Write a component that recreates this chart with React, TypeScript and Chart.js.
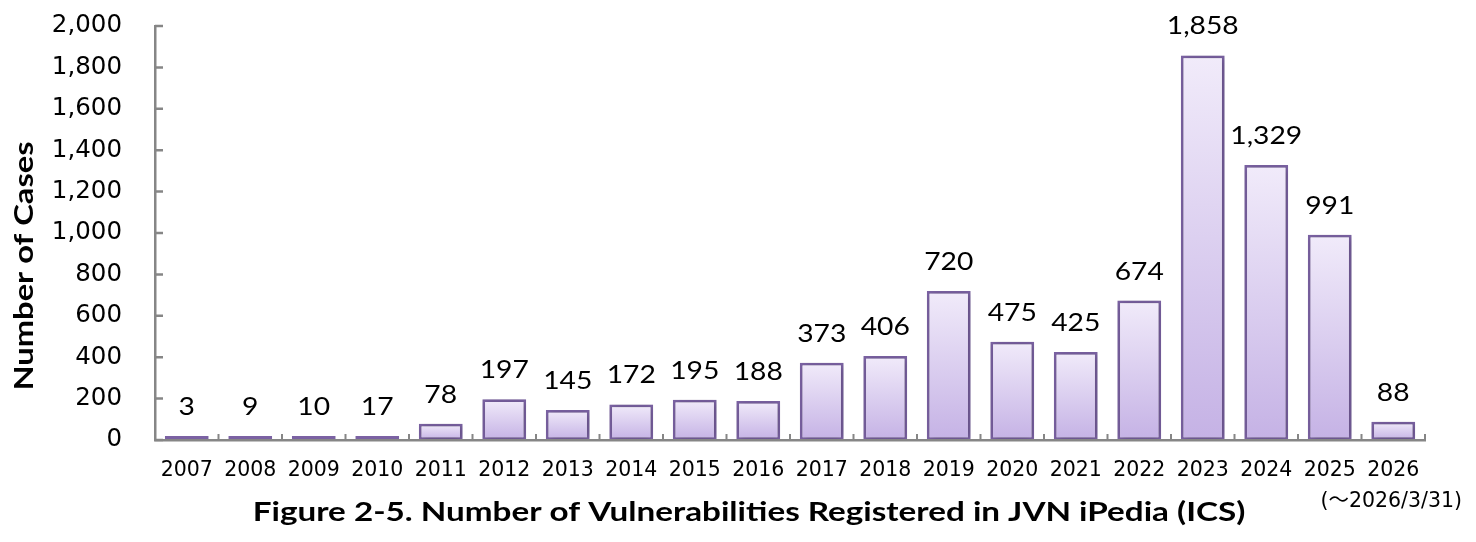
import { useEffect, useRef } from 'react';
import { Chart, registerables } from 'chart.js';

Chart.register(...registerables);

const categories = [
  '2007', '2008', '2009', '2010', '2011', '2012', '2013', '2014', '2015', '2016',
  '2017', '2018', '2019', '2020', '2021', '2022', '2023', '2024', '2025', '2026',
];
const caseCounts = [3, 9, 10, 17, 78, 197, 145, 172, 195, 188, 373, 406, 720, 475, 425, 674, 1858, 1329, 991, 88];
const yMax = 2000;
const yStep = 200;
const yAxisTitle = 'Number of Cases';
const chartTitle = 'Figure 2-5. Number of Vulnerabilities Registered in JVN iPedia (ICS)';
const lastYearNote = '(～2026/3/31)';

const AXIS_COLOR = '#868686';
const BORDER_COLOR = '#7b62a3';

const fmt = (v: number) => v.toLocaleString('en-US');

// the original uses a wide Calibri-like face, so texts are stretched a bit sideways
function drawText(ctx: any, text: string, x: number, y: number, font: string, sx: number, angle = 0) {
  ctx.save();
  ctx.translate(x, y);
  if (angle) ctx.rotate(angle);
  ctx.scale(sx, 1);
  ctx.font = font;
  ctx.fillText(text, 0, 0);
  ctx.restore();
}

const decorPlugin = {
  id: 'decor',
  beforeDatasetsDraw(chart: any) {
    const ctx = chart.ctx;
    ctx.save();
    ctx.shadowColor = 'rgba(0,0,0,0.3)';
    ctx.shadowBlur = 7;
    ctx.shadowOffsetX = 1;
    ctx.shadowOffsetY = 1;
  },
  afterDatasetsDraw(chart: any) {
    const ctx = chart.ctx;
    ctx.restore();

    const meta = chart.getDatasetMeta(0);
    ctx.save();
    ctx.fillStyle = '#000';
    ctx.textAlign = 'center';
    ctx.textBaseline = 'middle';
    meta.data.forEach((bar: any, i: number) => {
      drawText(ctx, fmt(caseCounts[i]), bar.x, bar.y - 29, '25px Lato', 1.13);
    });
    ctx.restore();
  },
  afterDraw(chart: any) {
    const { ctx, chartArea } = chart;
    const x = chart.scales.x;
    const y = chart.scales.y;
    ctx.save();

    // tick marks point into the plot
    ctx.strokeStyle = AXIS_COLOR;
    ctx.lineWidth = 2.5;
    ctx.beginPath();
    y.ticks.forEach((t: any) => {
      const py = y.getPixelForValue(t.value);
      ctx.moveTo(chartArea.left, py);
      ctx.lineTo(chartArea.left + 8, py);
    });
    ctx.stroke();
    ctx.lineWidth = 2;
    ctx.beginPath();
    for (let i = 0; i <= categories.length; i++) {
      const px = x.getPixelForValue(i - 0.5);
      ctx.moveTo(px, chartArea.bottom);
      ctx.lineTo(px, chartArea.bottom - 6);
    }
    ctx.stroke();

    ctx.fillStyle = '#000';
    ctx.textAlign = 'center';

    // y axis title
    ctx.textBaseline = 'middle';
    drawText(ctx, yAxisTitle, chartArea.left - 131, (chartArea.top + chartArea.bottom) / 2 + 33,
      'bold 27px Lato', 1.21, -Math.PI / 2);

    // note under the last year
    ctx.font = '20.5px "DejaVu Sans", "Noto Sans CJK JP"';
    ctx.fillText(lastYearNote, x.getPixelForValue(categories.length - 1) - 2, chartArea.bottom + 62);

    // figure caption
    ctx.textBaseline = 'alphabetic';
    drawText(ctx, chartTitle, chart.width / 2 + 11, chartArea.bottom + 81, 'bold 27px Lato', 1.23);
    ctx.restore();
  },
};

function barGradient(context: any) {
  const chart = context.chart;
  if (!chart.chartArea || context.type !== 'data') return '#dcd0f0';
  const y = chart.scales.y;
  const top = y.getPixelForValue(context.raw);
  const bottom = y.getPixelForValue(0);
  const g = chart.ctx.createLinearGradient(0, Math.min(top, bottom - 4), 0, bottom);
  g.addColorStop(0, '#f1ebfa');
  g.addColorStop(1, '#c5b2e5');
  return g;
}

export default function App() {
  const canvasRef = useRef<HTMLCanvasElement>(null);
  const chartRef = useRef<Chart | null>(null);

  useEffect(() => {
    if (!canvasRef.current) return;
    if (chartRef.current) chartRef.current.destroy();

    chartRef.current = new Chart(canvasRef.current, {
      type: 'bar',
      data: {
        labels: categories,
        datasets: [
          {
            label: yAxisTitle,
            data: caseCounts,
            backgroundColor: barGradient,
            borderColor: BORDER_COLOR,
            borderWidth: 2.75,
            borderSkipped: false,
            minBarLength: 4,
            barPercentage: 0.69,
            categoryPercentage: 1,
          },
        ],
      },
      options: {
        responsive: true,
        maintainAspectRatio: false,
        animation: false,
        layout: { autoPadding: false, padding: { left: 0, right: 51, top: 26, bottom: 0 } },
        plugins: {
          legend: { display: false },
          tooltip: { enabled: false },
          title: { display: false },
        },
        scales: {
          x: {
            grid: { display: false, drawTicks: false },
            border: { display: true, color: AXIS_COLOR, width: 2.5, z: 1 },
            ticks: {
              color: '#000',
              font: { family: '"DejaVu Sans"', size: 20.5 },
              padding: 18,
              maxRotation: 0,
              autoSkip: false,
            },
            afterFit(scale: any) {
              scale.height = 102;
              scale.paddingLeft = 0;
              scale.paddingRight = 0;
            },
          },
          y: {
            min: 0,
            max: yMax,
            grid: { display: false, drawTicks: false },
            border: { display: true, color: AXIS_COLOR, width: 2.5, z: 1 },
            ticks: {
              stepSize: yStep,
              color: '#000',
              font: { family: '"DejaVu Sans"', size: 24.5 },
              padding: 33,
              callback: (v: any) => fmt(Number(v)),
            },
            afterFit(scale: any) {
              scale.width = 155;
              scale.paddingTop = 0;
              scale.paddingBottom = 0;
            },
          },
        },
      },
      plugins: [decorPlugin],
    });

    return () => {
      if (chartRef.current) {
        chartRef.current.destroy();
        chartRef.current = null;
      }
    };
  }, []);

  return (
    <div style={{ position: 'fixed', left: 0, top: 0, width: 1476, height: 542, background: '#fff' }}>
      <canvas ref={canvasRef} />
    </div>
  );
}
